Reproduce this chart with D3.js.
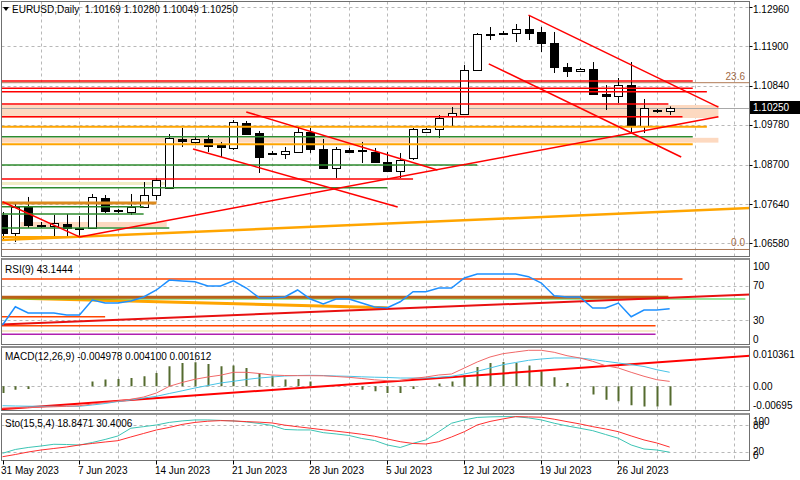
<!DOCTYPE html>
<html><head><meta charset="utf-8">
<script src="https://cdn.jsdelivr.net/npm/d3@7"></script>
<style>body{margin:0;background:#fff;} svg{display:block;font-family:"Liberation Sans",Arial,sans-serif;font-size:10px;}</style>
</head><body><svg id="c" width="800" height="480"></svg>
<script>
// ---------- DATA ----------
const header = "EURUSD,Daily  1.10169 1.10280 1.10049 1.10250";
const xTickIdx = [0,6,12,18,24,30,36,42,48];
const xTickLabels = ["31 May 2023","7 Jun 2023","14 Jun 2023","21 Jun 2023","28 Jun 2023","5 Jul 2023","12 Jul 2023","19 Jul 2023","26 Jul 2023"];
const priceTicks = [1.12960,1.11900,1.10840,1.09780,1.08700,1.07640,1.06580];
const lastPrice = 1.10250;

const open  = [1.07343,1.06856,1.07559,1.07073,1.07059,1.07100,1.06965,1.06992,1.07803,1.07451,1.07424,1.07559,1.07884,1.08073,1.09398,1.09317,1.09398,1.09236,1.09155,1.09831,1.09560,1.09010,1.08993,1.09047,1.09588,1.09128,1.08614,1.09101,1.09101,1.09047,1.08776,1.08533,1.08884,1.09588,1.09669,1.10020,1.10074,1.11264,1.12250,1.12265,1.12265,1.12373,1.12292,1.11994,1.11345,1.11237,1.11291,1.10615,1.10561,1.10858,1.09750,1.10160,1.10169];
const high  = [1.07424,1.07695,1.07830,1.07154,1.07343,1.07370,1.07316,1.07911,1.07884,1.07505,1.07911,1.08235,1.08343,1.09533,1.09696,1.09452,1.09506,1.09317,1.09912,1.09885,1.09615,1.09074,1.09182,1.09723,1.09696,1.09398,1.09182,1.09155,1.09317,1.09155,1.09047,1.09020,1.09696,1.09696,1.10047,1.10264,1.11399,1.12265,1.12427,1.12320,1.12508,1.12751,1.12427,1.12292,1.11453,1.11318,1.11480,1.10858,1.11048,1.11480,1.10480,1.10210,1.10280];
const low   = [1.06667,1.06613,1.06992,1.06992,1.06748,1.06748,1.06721,1.06965,1.07397,1.07397,1.07343,1.07559,1.07749,1.08046,1.09182,1.09263,1.09047,1.08912,1.09101,1.09506,1.08479,1.08966,1.08857,1.09020,1.09020,1.08587,1.08343,1.09020,1.08749,1.08749,1.08506,1.08343,1.08830,1.09560,1.09425,1.09723,1.10047,1.11237,1.12075,1.12210,1.12021,1.12075,1.11751,1.11183,1.11075,1.11210,1.10588,1.10182,1.10372,1.09588,1.09560,1.10101,1.10049];
const close = [1.06856,1.07559,1.07073,1.07085,1.07127,1.06992,1.06992,1.07830,1.07451,1.07465,1.07559,1.07884,1.08289,1.09425,1.09344,1.09398,1.09209,1.09182,1.09858,1.09533,1.08912,1.09030,1.09074,1.09588,1.09128,1.08614,1.09128,1.09047,1.09090,1.08776,1.08533,1.08830,1.09669,1.09669,1.09966,1.10101,1.11264,1.12238,1.12211,1.12258,1.12373,1.12265,1.11994,1.11345,1.11237,1.11291,1.10615,1.10561,1.10858,1.09750,1.10237,1.10170,1.10250];

// horizontal levels: [price, last bar index]
const redLevels    = [[1.10967,53.8],[1.10769,53.8],[1.10677,54.9],[1.10345,51.9],[1.10001,53],[1.08317,32]];
const greenLevels  = [[1.09460,53.8],[1.08695,37],[1.08081,30],[1.07568,11],[1.07370,11],[1.06992,13]];
const orangeLevels = [[1.09731,54.9],[1.09255,53.8],[1.06748,6]];
const darkOrangeLevels = [[1.07668,12]];
// zones: [price top, price bottom, first bar, last bar]
const peachZones = [[1.10318,1.09966,-1,55.8],[1.09430,1.09300,-1,55.8],[1.07154,1.07019,1.4,12.8]];
const paleZones  = [[1.08235,1.08154,-1,12.8]];
const fibLevels  = [1.10921,1.06410];
const fibLabels  = ["23.6","0.0"];
// trendlines: [bar1, price1, bar2, price2]
const redTrends = [[0,1.0770,6,1.0675],[6,1.0675,55.8,1.1000],[19,1.1013,33.9,1.0856],[14.85,1.0913,30.8,1.0756],[41,1.1275,55.8,1.1026],[37.9,1.1143,52.9,1.0891]];
const orangeTrend = [-0.5,1.0666,58.3,1.0753];

// RSI(9)
const rsiLabel = "RSI(9) 43.1444";
const rsi = [24.2,45.5,38.2,38.2,38.2,35.8,35.8,53.3,49.8,49.8,52.2,56.8,65,76.6,75.5,74.7,69.7,69.7,75.8,67.3,56,55.7,56.8,65,54.5,48.7,54.5,54.5,49.8,45.2,44.3,51.3,63,63,67.3,67.3,79,83.6,83.6,83.6,83.6,80.5,73.1,58.3,56.8,56.8,44,44,49.8,33.8,41.7,41.7,43.1444];
const rsiTicks = [100,70,30,0];
const rsiOrangeRed = [[77.8,53],[33.8,8],[23.4,50.9]];
const rsiBrown = [[56.5,51.9]];
const rsiGreen = [[54.5,57.9]];
const rsiPale = [[17.2,50.9]];
const rsiPurple = [[13.3,50.9]];
const rsiOrangeTrend = [-0.5,56.0,30,44.3];
const rsiRedTrend = [-0.5,24.6,58.3,59.8];

// MACD(12,26,9)
const macdLabel = "MACD(12,26,9) -0.004978 0.004100 0.001612";
const macdHist = [-0.0022,-0.0011,-0.0009,0,0,0,0,0.0016,0.0022,0.0024,0.0027,0.0033,0.0044,0.0066,0.0076,0.0079,0.0073,0.0066,0.0068,0.0060,0.0044,0.0035,0.0022,0.0024,0.0016,0,0,0,-0.0011,-0.0016,-0.0022,-0.0022,-0.0009,0,0.0009,0.0016,0.0036,0.0063,0.0076,0.0080,0.0076,0.0068,0.0049,0.0030,0.0011,0,-0.0027,-0.0044,-0.0049,-0.0062,-0.0066,-0.0066,-0.0063];
const macdRed = [-0.00711,-0.00705,-0.00695,-0.00685,-0.00672,-0.00656,-0.00636,-0.0058,-0.00531,-0.00482,-0.00426,-0.00351,-0.0022,0.0,0.00125,0.0023,0.00305,0.00364,0.00459,0.00459,0.0042,0.0037,0.00354,0.00348,0.00348,0.00344,0.00321,0.00295,0.00256,0.00213,0.00184,0.0019,0.00256,0.00305,0.0037,0.00403,0.006,0.00797,0.00961,0.01069,0.01125,0.0118,0.0118,0.01115,0.01003,0.00928,0.0082,0.00675,0.006,0.00459,0.00328,0.00216,0.001612];
const macdCyan = [-0.00636,-0.00646,-0.00652,-0.00656,-0.00656,-0.00656,-0.00656,-0.00613,-0.00564,-0.00498,-0.00449,-0.00384,-0.00328,-0.00236,-0.00148,-0.00056,0.00026,0.00108,0.00164,0.00223,0.00272,0.00305,0.00338,0.00354,0.00361,0.00354,0.00338,0.00328,0.00311,0.00298,0.00289,0.00272,0.00272,0.00272,0.00298,0.00328,0.00403,0.00492,0.0060,0.00708,0.0078,0.00852,0.00895,0.00928,0.00928,0.00928,0.00879,0.0082,0.00764,0.00708,0.00649,0.00544,0.0046];
const macdTicks = [0.010361,0,-0.00695];
const macdTickLabels = ["0.010361","0.00","-0.00695"];
const macdTrend = [-0.5,-0.00767,58.3,0.01003];

// Stochastic(15,5,4)
const stoLabel = "Sto(15,5,4) 18.8471 30.4006";
const stoK = [16.4,25,29.5,32.8,36.7,36.2,35,40.7,47.5,55.4,72.7,76.3,80.1,85.8,89.1,91.4,91.4,90.3,89.1,86.9,83.5,79,70,68.9,68.9,62.8,59.9,56.5,49.7,45.2,35.1,29.5,38.9,46.4,65,84,91.4,97,98.2,98.8,98.8,95.9,91.4,84,77.9,72.7,67.3,58.7,50.2,35.1,26.1,23.8,18.8471];
const stoD = [8.7,13.7,19.3,23.8,27.2,30.6,35.1,38.5,41.8,44.8,53.1,61,68.9,74.5,81.3,85.8,88.5,89.8,89.1,87.6,86.4,84.6,79.7,76.1,72.7,69.3,66.2,62.8,59.2,54.7,48.6,42.5,38.5,37.3,42.5,53.1,65,80.1,88,93.6,98.8,98.2,97.5,93,87.6,82.4,76.3,71.1,65,55.4,46.4,39.6,30.4006];
const stoTicks = [100,80,20,0];

// ---------- LAYOUT ----------
const svg = d3.select("#c");
const L = 1.5, R = 749.5;
const P = { main:[1.5,256.5], rsi:[258.5,344.5], macd:[346.5,410.5], sto:[413.5,460.5] };
const N = open.length;
const x  = d3.scaleLinear().domain([0,52]).range([2.5,669.66]);
const yP = d3.scaleLinear().domain([1.12960,1.06580]).range([7.3,243.2]);
const yR = d3.scaleLinear().domain([70,30]).range([285.7,320]);
const yM = d3.scaleLinear().domain([0,0.010361]).range([386.3,354.7]);
const yS = d3.scaleLinear().domain([80,20]).range([425,451.7]);
const GRID = "#b8b8b8";

svg.append("rect").attr("width",800).attr("height",480).attr("fill","#fff");
const defs = svg.append("defs");
Object.entries(P).forEach(([k,[t,b]])=>{
  defs.append("clipPath").attr("id","clip-"+k).append("rect")
    .attr("x",L).attr("y",t).attr("width",R-L).attr("height",b-t);
});
const layer = k => svg.append("g").attr("clip-path",`url(#clip-${k})`);

const gM = layer("main"), gR = layer("rsi"), gMa = layer("macd"), gS = layer("sto");

// vertical grid in each panel
const vIdx = d3.range(3,60,3);
[["main",gM],["rsi",gR],["macd",gMa],["sto",gS]].forEach(([k,g])=>{
  g.selectAll("line.vg").data(vIdx).join("line").attr("class","vg")
    .attr("x1",d=>Math.round(x(d))+0.5).attr("x2",d=>Math.round(x(d))+0.5)
    .attr("y1",P[k][0]).attr("y2",P[k][1])
    .attr("stroke",GRID).attr("stroke-dasharray","3,3");
});
function hgrid(g, vals, y){
  g.selectAll(null).data(vals).join("line")
    .attr("x1",L).attr("x2",R).attr("y1",d=>Math.round(y(d))+0.5).attr("y2",d=>Math.round(y(d))+0.5)
    .attr("stroke",GRID).attr("stroke-dasharray","3,3");
}
hgrid(gM, priceTicks, yP);
hgrid(gR, [70,30], yR);
hgrid(gMa, [0], yM);
hgrid(gS, [80,20], yS);

// ---------- MAIN PANEL ----------
function zones(g, data, fill){
  g.selectAll(null).data(data).join("rect")
    .attr("x",d=>x(d[2])).attr("width",d=>x(d[3])-x(d[2]))
    .attr("y",d=>yP(d[0])).attr("height",d=>yP(d[1])-yP(d[0]))
    .attr("fill",fill);
}
zones(gM, peachZones, "#fdd9c0");
zones(gM, paleZones, "#f2edc6");

// fib
gM.selectAll(null).data(fibLevels).join("line")
  .attr("x1",L).attr("x2",R).attr("y1",d=>yP(d)).attr("y2",d=>yP(d))
  .attr("stroke","#b07a55").attr("stroke-width",1);
// last price line
gM.append("line").attr("x1",L).attr("x2",R).attr("y1",Math.round(yP(lastPrice))+0.5).attr("y2",Math.round(yP(lastPrice))+0.5)
  .attr("stroke","#a8a8a8");

// candles
const bars = d3.range(N).map(i=>({i,o:open[i],h:high[i],l:low[i],c:close[i]}));
const cx = i => Math.round(x(i))+0.5;
gM.selectAll("line.wick").data(bars).join("line").attr("class","wick")
  .attr("x1",d=>cx(d.i)).attr("x2",d=>cx(d.i))
  .attr("y1",d=>yP(d.h)).attr("y2",d=>yP(d.l)).attr("stroke","#000");
gM.selectAll("rect.body").data(bars).join("rect").attr("class","body")
  .attr("x",d=>cx(d.i)-4).attr("width",8)
  .attr("y",d=>Math.round(yP(Math.max(d.o,d.c)))+0.5)
  .attr("height",d=>Math.max(1,Math.round(Math.abs(yP(d.o)-yP(d.c)))))
  .attr("fill",d=>d.c>=d.o?"#fff":"#000").attr("stroke","#000");

function levels(g, data, y, color, w){
  g.selectAll(null).data(data).join("line")
    .attr("x1",L-2).attr("x2",d=>x(d[1]))
    .attr("y1",d=>y(d[0])).attr("y2",d=>y(d[0]))
    .attr("stroke",color).attr("stroke-width",w);
}
function trends(g, data, y, color, w){
  g.selectAll(null).data(data).join("line")
    .attr("x1",d=>x(d[0])).attr("y1",d=>y(d[1]))
    .attr("x2",d=>x(d[2])).attr("y2",d=>y(d[3]))
    .attr("stroke",color).attr("stroke-width",w);
}
levels(gM, greenLevels, yP, "#2e8b2e", 1.5);
levels(gM, orangeLevels, yP, "#ffa500", 2);
levels(gM, darkOrangeLevels, yP, "#dc8a1e", 3);
levels(gM, redLevels, yP, "#ff0000", 1.5);
trends(gM, [orangeTrend], yP, "#ffa500", 2.5);
trends(gM, redTrends, yP, "#ff0000", 1.5);

// fib labels
svg.selectAll(null).data(fibLevels).join("text")
  .attr("x",745).attr("y",d=>yP(d)-3).attr("text-anchor","end")
  .attr("fill","#a06a45").text((d,i)=>fibLabels[i]);

// ---------- RSI ----------
levels(gR, rsiOrangeRed, yR, "#ff4500", 1.5);
levels(gR, rsiPale, yR, "#f5e3b8", 1.5);
levels(gR, rsiPurple, yR, "#b020b0", 1.5);
trends(gR, [rsiOrangeTrend], yR, "#ffa500", 3);
levels(gR, rsiGreen, yR, "#33cc33", 1);
levels(gR, rsiBrown, yR, "#bb6018", 3);
trends(gR, [rsiRedTrend], yR, "#e81010", 2);
gR.append("path").datum(rsi)
  .attr("d", d3.line().x((d,i)=>x(i)).y(d=>yR(d)))
  .attr("fill","none").attr("stroke","#1e90ff").attr("stroke-width",1.5);

// ---------- MACD ----------
gMa.selectAll("line.h").data(macdHist).join("line").attr("class","h")
  .attr("x1",(d,i)=>cx(i)).attr("x2",(d,i)=>cx(i))
  .attr("y1",yM(0)).attr("y2",d=>yM(d))
  .attr("stroke","#556b2f").attr("stroke-width",2);
trends(gMa, [macdTrend], yM, "#ff0000", 2);
gMa.append("path").datum(macdCyan)
  .attr("d", d3.line().x((d,i)=>x(i)).y(d=>yM(d)))
  .attr("fill","none").attr("stroke","#48c4e6").attr("stroke-width",1);
gMa.append("path").datum(macdRed)
  .attr("d", d3.line().x((d,i)=>x(i)).y(d=>yM(d)))
  .attr("fill","none").attr("stroke","#f06868").attr("stroke-width",1);

// ---------- STOCH ----------
gS.append("path").datum(stoK)
  .attr("d", d3.line().x((d,i)=>x(i)).y(d=>yS(d)))
  .attr("fill","none").attr("stroke","#3cc4b4").attr("stroke-width",1);
gS.append("path").datum(stoD)
  .attr("d", d3.line().x((d,i)=>x(i)).y(d=>yS(d)))
  .attr("fill","none").attr("stroke","#ff3030").attr("stroke-width",1);

// ---------- FRAMES ----------
Object.values(P).forEach(([t,b])=>{
  svg.append("rect").attr("x",L).attr("y",t).attr("width",R-L).attr("height",b-t)
    .attr("fill","none").attr("stroke","#707070");
});
[P.rsi[0],P.macd[0],P.sto[0]].forEach(t=>{
  svg.append("line").attr("x1",L).attr("x2",R).attr("y1",t+0.5).attr("y2",t+0.5)
    .attr("stroke","#909090").attr("stroke-width",2);
});

// ---------- AXES TEXT ----------
const clampY = (v,[t,b]) => Math.max(t+8, Math.min(b-5, v));
function axisLabels(vals, labels, y, panel){
  svg.selectAll(null).data(vals).join("text")
    .attr("x",753).attr("y",d=>clampY(y(d),panel)).attr("dy","0.35em")
    .attr("fill","#000").text((d,i)=>labels[i]);
}
axisLabels(priceTicks, priceTicks.map(d=>d.toFixed(5)), yP, P.main);
svg.selectAll(null).data(priceTicks).join("line")
  .attr("x1",R).attr("x2",R+3).attr("y1",d=>Math.round(yP(d))+0.5).attr("y2",d=>Math.round(yP(d))+0.5).attr("stroke","#000");
axisLabels(rsiTicks, rsiTicks.map(String), yR, P.rsi);
axisLabels(macdTicks, macdTickLabels, yM, P.macd);
axisLabels(stoTicks, stoTicks.map(String), yS, P.sto);

// last price box
const ly = yP(lastPrice);
svg.append("rect").attr("x",750).attr("y",ly-6.5).attr("width",50).attr("height",13).attr("fill","#000");
svg.append("text").attr("x",753).attr("y",ly).attr("dy","0.35em").attr("fill","#fff").text(lastPrice.toFixed(5));

// x axis
svg.selectAll(null).data(xTickIdx).join("text")
  .attr("x",d=>x(d)-1.5).attr("y",474).attr("fill","#000").text((d,i)=>xTickLabels[i]);
svg.selectAll(null).data(xTickIdx).join("line")
  .attr("x1",d=>cx(d)).attr("x2",d=>cx(d)).attr("y1",P.sto[1]).attr("y2",P.sto[1]+4).attr("stroke","#000");

// panel titles
svg.append("path").attr("d","M3,7 L9,7 L6,11 Z").attr("fill","#000");
svg.append("text").attr("x",12).attr("y",13).attr("fill","#000").attr("xml:space","preserve").text(header);
svg.append("text").attr("x",5).attr("y",273).attr("fill","#000").text(rsiLabel);
svg.append("text").attr("x",5).attr("y",360).attr("fill","#000").text(macdLabel);
svg.append("text").attr("x",5).attr("y",427).attr("fill","#000").text(stoLabel);
</script></body></html>
